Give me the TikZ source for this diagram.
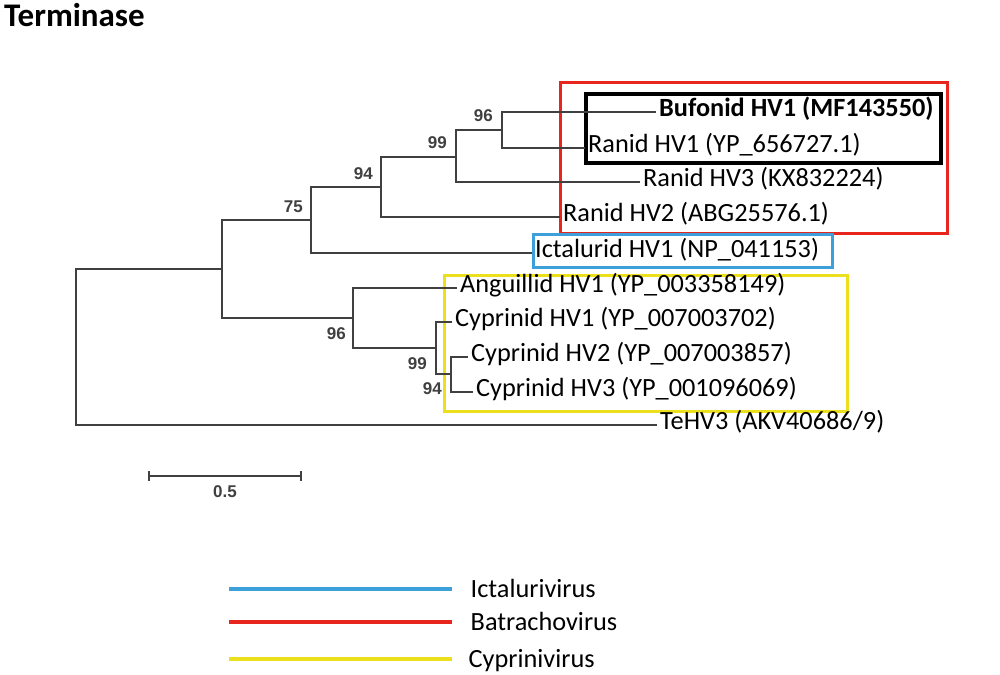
\documentclass[tikz,border=0pt]{standalone}
\usepackage{fontspec}
\setmainfont{Carlito}
\newfontfamily\bootfont{Liberation Sans}
\usetikzlibrary{positioning}
\definecolor{ictblue}{RGB}{62,160,218}
\definecolor{batred}{RGB}{232,38,30}
\definecolor{cypyellow}{RGB}{236,224,28}
\definecolor{treegray}{RGB}{64,64,64}

\begin{document}
\begin{tikzpicture}[x=1pt,y=-1pt,
    branch/.style={draw=treegray,line width=2pt},
    leaf/.style={anchor=west,inner xsep=3pt,inner ysep=0pt,text height=14.5pt,text depth=5.5pt,font=\fontsize{26.3}{30}\selectfont},
    boot/.style={inner sep=0pt,text=treegray,font=\bootfont\bfseries\fontsize{17}{20}\selectfont},
    cladebox/.style={line width=3pt},
    legline/.style={line width=3.4pt},
    legtext/.style={anchor=west,inner sep=0pt,text=black,text height=17pt,text depth=0pt,font=\fontsize{26.3}{30}\selectfont}]
    \useasboundingbox (0,0) rectangle (1000,674);
    \node[anchor=base west,inner sep=0pt,font=\bfseries\fontsize{33}{38}\selectfont] (title) at (4,27) {Terminase};

    \draw[cladebox,batred] (560,83) rectangle (947,233);
    \draw[cladebox,black,line width=3.8pt] (586,94) rectangle (941,163);
    \draw[cladebox,ictblue] (533,234) rectangle (832,267);
    \draw[cladebox,cypyellow] (444,275) rectangle (847,411);

    \coordinate (root) at (76,348);
    \coordinate (nA) at (222,269);
    \coordinate (n75) at (311,220);
    \coordinate (n94a) at (381,187);
    \coordinate (n99a) at (456,157);
    \coordinate (n96a) at (502,130);
    \coordinate (n96b) at (353,318);
    \coordinate (n99b) at (436,348);
    \coordinate (n94b) at (451,374);

    \node[leaf,font=\bfseries\fontsize{26.3}{30}\selectfont] (bufonid) at (656,112) {Bufonid HV1 (MF143550)};
    \node[leaf] (ranid1) at (585,148) {Ranid HV1 (YP\_656727.1)};
    \node[leaf] (ranid3) at (640,182) {Ranid HV3 (KX832224)};
    \node[leaf] (ranid2) at (560,217) {Ranid HV2 (ABG25576.1)};
    \node[leaf] (ictalurid) at (532,253) {Ictalurid HV1 (NP\_041153)};
    \node[leaf] (anguillid) at (457,288) {Anguillid HV1 (YP\_003358149)};
    \node[leaf] (cyprinid1) at (452,322) {Cyprinid HV1 (YP\_007003702)};
    \node[leaf] (cyprinid2) at (468,357) {Cyprinid HV2 (YP\_007003857)};
    \node[leaf] (cyprinid3) at (473,392) {Cyprinid HV3 (YP\_001096069)};
    \node[leaf] (tehv3) at (657,425) {TeHV3 (AKV40686/9)};

    \draw[branch] (root) |- (nA);
    \draw[branch] (root) |- (tehv3.west);
    \draw[branch] (nA) |- (n75);
    \draw[branch] (nA) |- (n96b);
    \draw[branch] (n75) |- (n94a);
    \draw[branch] (n75) |- (ictalurid.west);
    \draw[branch] (n94a) |- (n99a);
    \draw[branch] (n94a) |- (ranid2.west);
    \draw[branch] (n99a) |- (n96a);
    \draw[branch] (n99a) |- (ranid3.west);
    \draw[branch] (n96a) |- (bufonid.west);
    \draw[branch] (n96a) |- (ranid1.west);
    \draw[branch] (n96b) |- (anguillid.west);
    \draw[branch] (n96b) |- (n99b);
    \draw[branch] (n99b) |- (cyprinid1.west);
    \draw[branch] (n99b) |- (n94b);
    \draw[branch] (n94b) |- (cyprinid2.west);
    \draw[branch] (n94b) |- (cyprinid3.west);

    \node[boot,above left=8pt and 9pt of n96a] (b96a) {96};
    \node[boot,above left=8pt and 9pt of n99a] (b99a) {99};
    \node[boot,above left=7.5pt and 8pt of n94a] (b94a) {94};
    \node[boot,above left=7.5pt and 8pt of n75] (b75) {75};
    \node[boot,below left=9pt and 7pt of n96b] (b96b) {96};
    \node[boot,below left=9pt and 9pt of n99b] (b99b) {99};
    \node[boot,below left=8pt and 9pt of n94b] (b94b) {94};

    \coordinate (sbl) at (149,476);
    \coordinate (sbr) at (301,476);
    \draw[branch] (sbl) -- (sbr);
    \draw[branch] ([yshift=5pt]sbl) -- ([yshift=-5pt]sbl);
    \draw[branch] ([yshift=5pt]sbr) -- ([yshift=-5pt]sbr);
    \path (sbl) -- (sbr) node[midway,boot,below=9pt] (sblabel) {0.5};

    \draw[legline,ictblue] (229,589) -- (452,589) node[legtext,right=17pt] (lgict) {Ictalurivirus};
    \draw[legline,batred] (229,622) -- (452,622) node[legtext,right=17pt] (lgbat) {Batrachovirus};
    \draw[legline,cypyellow] (229,659) -- (452,659) node[legtext,right=15pt] (lgcyp) {Cyprinivirus};
\end{tikzpicture}
\end{document}
